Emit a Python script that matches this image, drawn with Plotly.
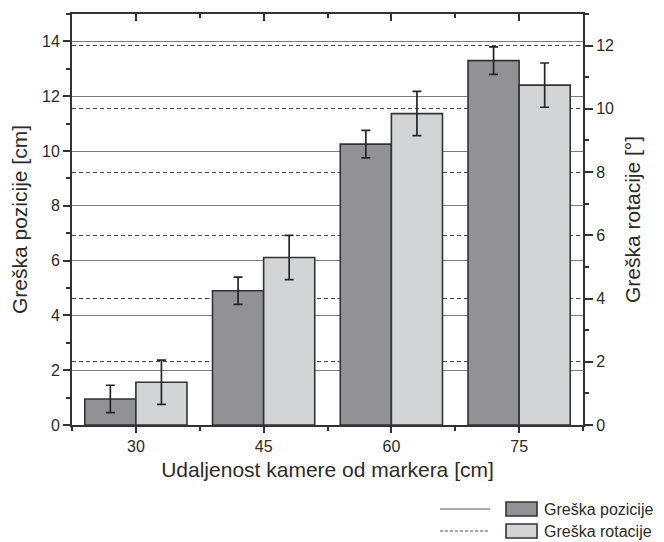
import plotly.graph_objects as go

# ---- data ----
distances = ["30", "45", "60", "75"]
pos_error = [0.95, 4.9, 10.25, 13.3]      # cm (left axis)
pos_sd = [0.5, 0.5, 0.5, 0.5]
rot_error = [1.35, 5.3, 9.85, 10.75]      # deg (right axis)
rot_sd = [0.7, 0.7, 0.7, 0.7]
left_ticks = [0, 2, 4, 6, 8, 10, 12, 14]
right_ticks = [0, 2, 4, 6, 8, 10, 12]
series_names = ["Greška pozicije", "Greška rotacije"]

x_idx = list(range(len(distances)))

FONT = "Liberation Sans, Arial, sans-serif"
TXT = "#2b2b2b"
AX = "#333333"
DARK = "#929296"
LIGHT = "#d3d4d6"

W, H = 664, 542
ML, MR, MT, MB = 72, 81, 14, 117
PW, PH = W - ML - MR, H - MT - MB

fig = go.Figure()

fig.add_trace(go.Bar(
    x=x_idx, y=pos_error, name=series_names[0],
    width=0.4, offset=-0.4,
    marker=dict(color=DARK, line=dict(color=AX, width=1.6)),
    error_y=dict(type="data", array=pos_sd, color="#262626", thickness=1.7, width=4.5),
    xaxis="x", yaxis="y", showlegend=False,
))
fig.add_trace(go.Bar(
    x=x_idx, y=rot_error, name=series_names[1],
    width=0.4, offset=0.0,
    marker=dict(color=LIGHT, line=dict(color=AX, width=1.6)),
    error_y=dict(type="data", array=rot_sd, color="#262626", thickness=1.7, width=4.5),
    xaxis="x2", yaxis="y2", showlegend=False,
))

xr = [-0.5, len(distances) - 0.5]
minor_x = [i - 0.5 for i in range(len(distances) + 1)]

fig.update_layout(
    width=W, height=H,
    margin=dict(l=ML, r=MR, t=MT, b=MB, autoexpand=False),
    paper_bgcolor="white", plot_bgcolor="white",
    font=dict(family=FONT, color=TXT, size=16),
    barmode="overlay",
    xaxis=dict(
        range=xr, tickvals=x_idx, ticktext=distances, automargin=False,
        ticks="outside", ticklen=6, tickwidth=1.6, tickcolor=AX,
        minor=dict(tickvals=minor_x, ticks="outside", ticklen=4, tickwidth=1.6, tickcolor=AX),
        showline=True, linecolor=AX, linewidth=2, showgrid=False, zeroline=False,
        tickfont=dict(size=16, color=TXT),
        title=dict(text="Udaljenost kamere od markera [cm]", font=dict(size=21, color=TXT), standoff=8),
    ),
    xaxis2=dict(
        range=xr, overlaying="x", side="top", anchor="y2", automargin=False,
        tickvals=x_idx, showticklabels=False,
        ticks="inside", ticklen=7, tickwidth=1.6, tickcolor=AX,
        minor=dict(tickvals=minor_x, ticks="inside", ticklen=4, tickwidth=1.6, tickcolor=AX),
        showline=True, linecolor=AX, linewidth=2, showgrid=False, zeroline=False,
    ),
    yaxis=dict(
        range=[0, 15], tickvals=left_ticks, automargin=False,
        ticks="outside", ticklen=7, tickwidth=1.6, tickcolor=AX,
        minor=dict(dtick=1, ticks="outside", ticklen=4, tickwidth=1.6, tickcolor=AX, showgrid=False),
        showline=True, linecolor=AX, linewidth=2,
        showgrid=True, gridcolor="#7d7d7d", gridwidth=1.2, zeroline=False,
        tickfont=dict(size=16, color=TXT),
        title=dict(text="Greška pozicije [cm]", font=dict(size=21, color=TXT), standoff=9),
    ),
    yaxis2=dict(
        range=[0, 13], tickvals=right_ticks, overlaying="y", side="right", anchor="x2", automargin=False,
        ticks="outside", ticklen=8, tickwidth=1.6, tickcolor=AX,
        minor=dict(dtick=1, ticks="outside", ticklen=4, tickwidth=1.6, tickcolor=AX, showgrid=False),
        showline=True, linecolor=AX, linewidth=2,
        showgrid=True, gridcolor="#4a4a4a", gridwidth=1.2, griddash="4px,3px", zeroline=False,
        tickfont=dict(size=16, color=TXT),
        title=dict(text="Greška rotacije [°]", font=dict(size=21, color=TXT), standoff=12),
    ),
)

# ---- manual legend (line style + fill swatch + label), positions in paper px ----
def px_x(px):
    return (px - ML) / PW

def px_y(py):
    return (H - MB - py) / PH

legend_rows = [
    dict(y=509, dash="solid", fill=DARK, name=series_names[0]),
    dict(y=531, dash="3px,2px", fill=LIGHT, name=series_names[1]),
]
for row in legend_rows:
    fig.add_shape(type="line", xref="paper", yref="paper",
                  x0=px_x(440), x1=px_x(490), y0=px_y(row["y"]), y1=px_y(row["y"]),
                  line=dict(color="#555555", width=1, dash=row["dash"]))
    fig.add_shape(type="rect", xref="paper", yref="paper",
                  x0=px_x(506), x1=px_x(537), y0=px_y(row["y"] + 7), y1=px_y(row["y"] - 7),
                  fillcolor=row["fill"], line=dict(color=AX, width=1.6))
    fig.add_annotation(xref="paper", yref="paper",
                       x=px_x(542), y=px_y(row["y"]),
                       xanchor="left", yanchor="middle", showarrow=False,
                       text=row["name"], font=dict(size=16, color=TXT, family=FONT))

fig.write_html("out.html", config={"displayModeBar": False},
               post_script="document.body.style.margin='0px';document.body.style.overflow='hidden';")
